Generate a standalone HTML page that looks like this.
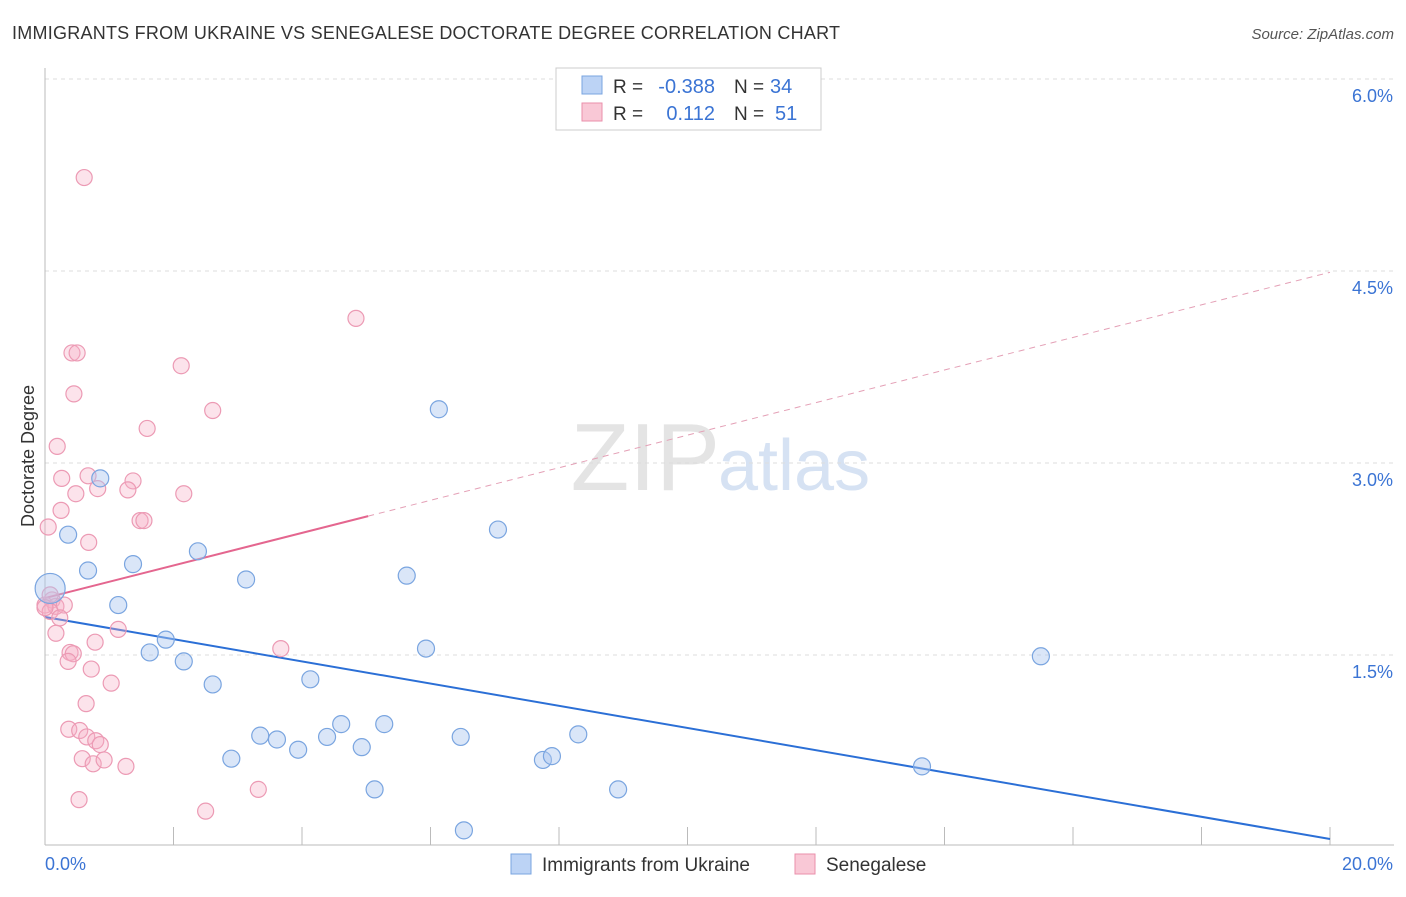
<!DOCTYPE html>
<html><head><meta charset="utf-8"><style>
body{margin:0;background:#fff;font-family:"Liberation Sans",sans-serif;}
svg text{font-family:"Liberation Sans",sans-serif;}
</style></head><body>
<svg id="chart" width="1406" height="892">
<text x="12" y="39" font-size="18" fill="#333" textLength="828">IMMIGRANTS FROM UKRAINE VS SENEGALESE DOCTORATE DEGREE CORRELATION CHART</text>
<text x="1394" y="39" font-size="15" fill="#555" font-style="italic" text-anchor="end">Source: ZipAtlas.com</text>
<text x="34" y="456" font-size="18" fill="#333" transform="rotate(-90 34 456)" text-anchor="middle">Doctorate Degree</text>
<text x="720" y="490" font-size="96" fill="#e4e4e4" text-anchor="end" font-family="Liberation Serif">ZIP</text>
<text x="718" y="490" font-size="72" fill="#d6e2f3">atlas</text>
<g id="grid"></g><g id="axes"></g><g id="lines"></g><g id="pts"></g>
<g>
<rect x="556" y="68" width="265" height="62" fill="#fff" stroke="#ccc"/>
<rect x="582" y="76" width="20" height="18" fill="#bcd3f5" stroke="#7aa5e0"/>
<rect x="582" y="103" width="20" height="18" fill="#f9c8d6" stroke="#ea8fab"/>
<text x="613" y="93" font-size="19" fill="#333">R =</text>
<text x="715" y="93" font-size="20" fill="#3b74d4" text-anchor="end">-0.388</text>
<text x="734" y="93" font-size="19" fill="#333">N =</text>
<text x="770" y="93" font-size="20" fill="#3b74d4">34</text>
<text x="613" y="120" font-size="19" fill="#333">R =</text>
<text x="715" y="120" font-size="20" fill="#3b74d4" text-anchor="end">0.112</text>
<text x="734" y="120" font-size="19" fill="#333">N =</text>
<text x="775" y="120" font-size="20" fill="#3b74d4">51</text>
</g>
<g>
<rect x="511" y="854" width="20" height="20" fill="#bcd3f5" stroke="#7aa5e0"/>
<text x="542" y="871" font-size="19" fill="#333">Immigrants from Ukraine</text>
<rect x="795" y="854" width="20" height="20" fill="#f9c8d6" stroke="#ea8fab"/>
<text x="826" y="871" font-size="19" fill="#333">Senegalese</text>
</g>
</svg>
<script>
const yTicks=[1.5,3.0,4.5,6.0];
const yTickLabels=["1.5%","3.0%","4.5%","6.0%"];
const xEnds=[0,20];
const xEndLabels=["0.0%","20.0%"];
const ukraineX=[0.08,0.36,0.67,0.86,1.14,1.37,1.63,1.88,2.16,2.38,2.61,2.90,3.13,3.35,3.61,3.94,4.13,4.39,4.61,4.93,5.13,5.28,5.63,5.93,6.13,6.47,6.52,7.05,7.75,7.89,8.30,8.92,13.65,15.50];
const ukraineY=[2.02,2.44,2.16,2.88,1.89,2.21,1.52,1.62,1.45,2.31,1.27,0.69,2.09,0.87,0.84,0.76,1.31,0.86,0.96,0.78,0.45,0.96,2.12,1.55,3.42,0.86,0.13,2.48,0.68,0.71,0.88,0.45,0.63,1.49];
const senegalX=[0.61,4.84,0.42,0.50,2.12,0.45,2.61,1.59,0.19,0.67,0.26,1.37,0.82,1.29,0.48,2.16,1.48,1.54,0.25,0.68,0.05,0.11,0.0,0.17,0.30,0.08,0.23,0.17,1.14,0.78,3.67,0.39,0.44,0.36,0.72,1.03,0.64,0.37,0.54,0.65,0.79,0.86,0.58,0.75,0.92,1.26,0.53,3.32,2.50,0.08,0.0];
const senegalY=[5.23,4.13,3.86,3.86,3.76,3.54,3.41,3.27,3.13,2.90,2.88,2.86,2.80,2.79,2.76,2.76,2.55,2.55,2.63,2.38,2.50,1.93,1.89,1.88,1.89,1.84,1.79,1.67,1.70,1.60,1.55,1.52,1.51,1.45,1.39,1.28,1.12,0.92,0.91,0.86,0.83,0.80,0.69,0.65,0.68,0.63,0.37,0.45,0.28,1.97,1.87];
const ukraineTrend=[1.797,0.0625];
const senegalTrend=[1.945,4.49];
const ns="http://www.w3.org/2000/svg";
const X=v=>45+v/20*1285, Y=v=>847-v*128;
function mk(parent,tag,attrs){const e=document.createElementNS(ns,tag);for(const k in attrs)e.setAttribute(k,attrs[k]);document.getElementById(parent).appendChild(e);return e;}
yTicks.forEach((t,i)=>{
 const g=mk('grid','line',{x1:45,x2:1394,y1:Y(t),y2:Y(t),stroke:'#ddd','stroke-dasharray':'4 4'});
 
 
 const l=mk('grid','text',{x:1393,y:Y(t)+23,'font-size':18,fill:'#3b74d4','text-anchor':'end'});
 l.textContent=yTickLabels[i];
 
 
});
let ax=mk('axes','line',{x1:45,x2:45,y1:68,y2:845,stroke:'#bbb'});


ax=mk('axes','line',{x1:45,x2:1394,y1:845,y2:845,stroke:'#bbb'});


for(let i=1;i<=10;i++){const t=mk('axes','line',{x1:X(i*2),x2:X(i*2),y1:827,y2:845,stroke:'#bbb'});
 
 }
xEnds.forEach((v,i)=>{const t=mk('axes','text',{x:i?1393:45,y:870,'font-size':18,fill:'#3b74d4','text-anchor':i?'end':'start'});t.textContent=xEndLabels[i];
 
 });
const sx=(a,b,x)=>a+(b-a)*x/20;
let ln=mk('lines','line',{x1:X(0),y1:Y(ukraineTrend[0]),x2:X(20),y2:Y(ukraineTrend[1]),stroke:'#2b6fd6','stroke-width':2});


ln=mk('lines','line',{x1:X(0),y1:Y(senegalTrend[0]),x2:X(5.03),y2:Y(sx(senegalTrend[0],senegalTrend[1],5.03)),stroke:'#e4668f','stroke-width':2});


ln=mk('lines','line',{x1:X(5.03),y1:Y(sx(senegalTrend[0],senegalTrend[1],5.03)),x2:X(20),y2:Y(senegalTrend[1]),stroke:'#e4a0b6','stroke-width':1,'stroke-dasharray':'6 5'});


senegalX.forEach((x,i)=>{const c=mk('pts','circle',{cx:X(x),cy:Y(senegalY[i]),r:8,fill:'rgba(246,176,198,0.35)',stroke:'#ec9ab4','stroke-width':1.2});
 
 });
ukraineX.forEach((x,i)=>{const c=mk('pts','circle',{cx:X(x),cy:Y(ukraineY[i]),r:i==0?15:8.5,fill:'rgba(172,200,240,0.45)',stroke:'#7aa5e0','stroke-width':1.2});
 
 });
</script>
</body></html>
